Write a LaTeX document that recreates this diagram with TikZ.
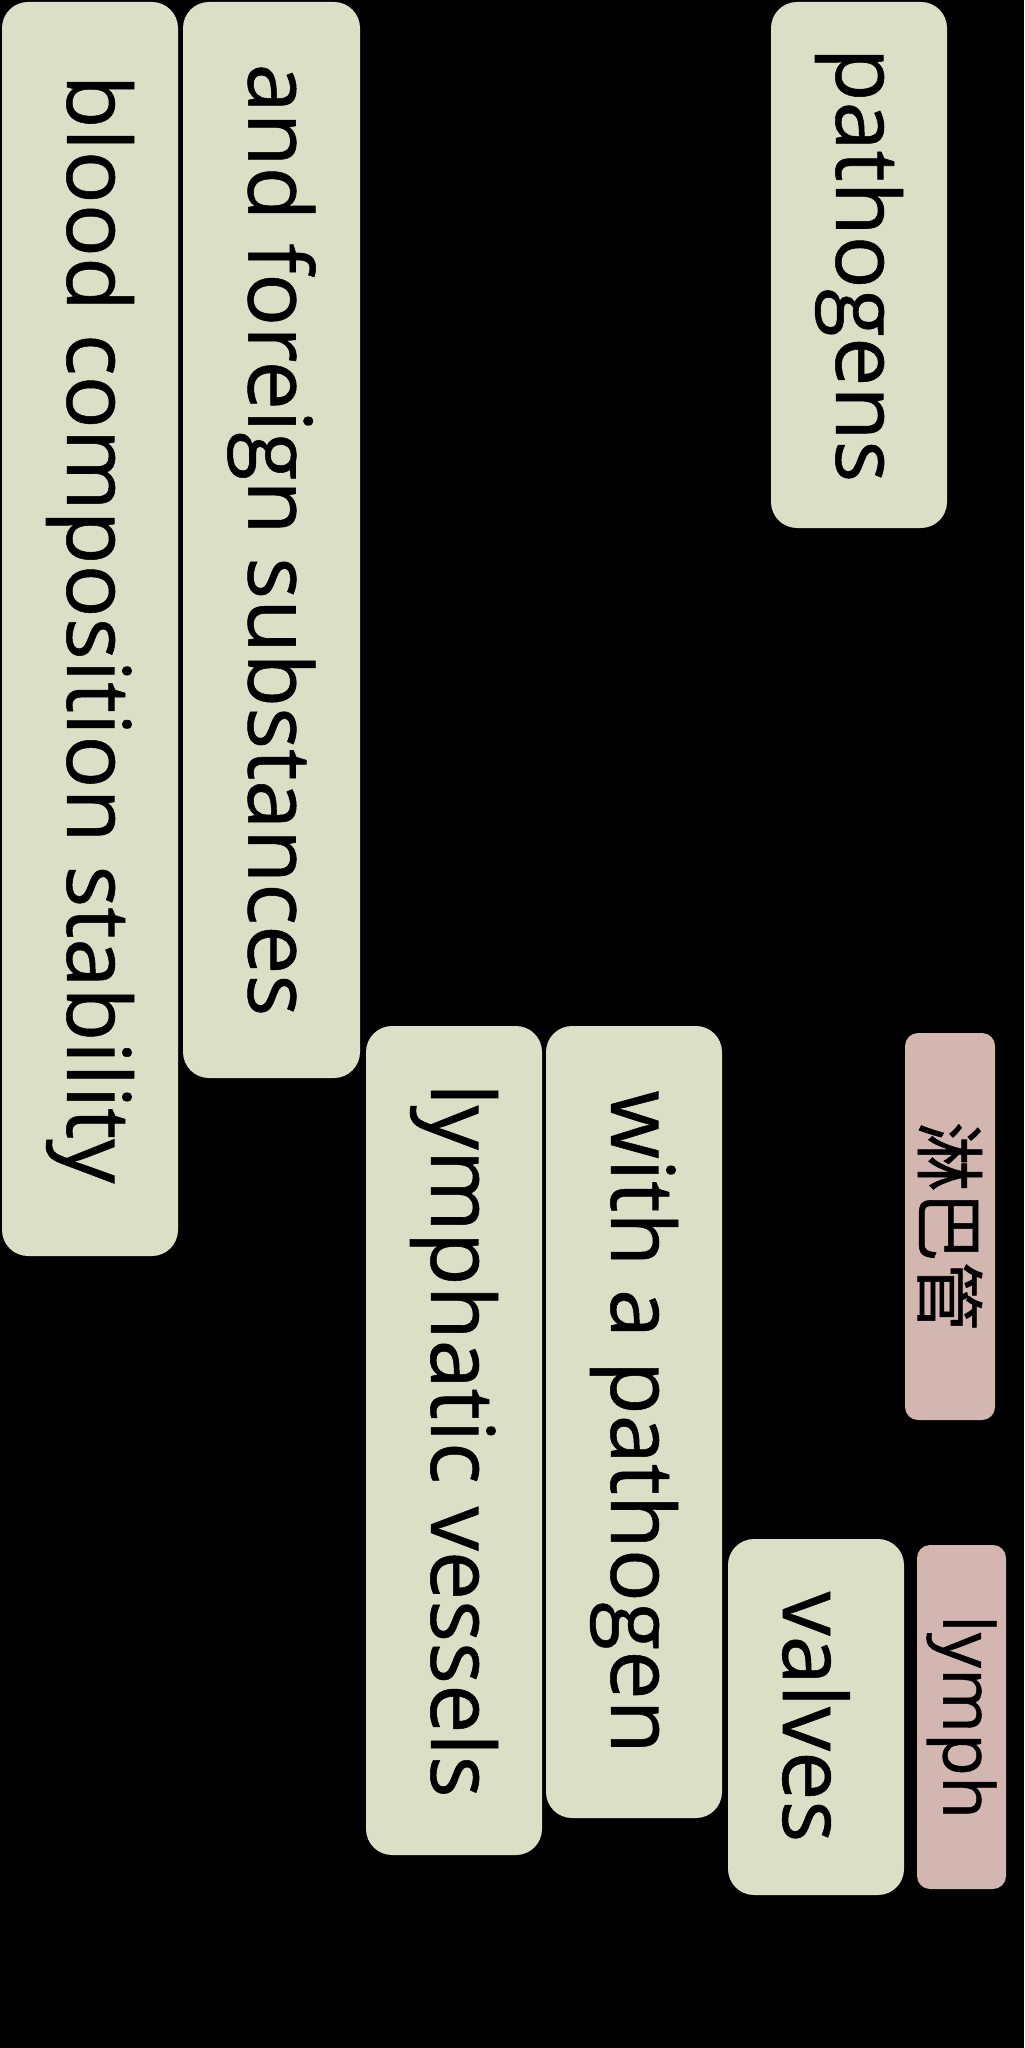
\documentclass[tikz,border=0pt]{standalone}
\usepackage{fontspec}
\setmainfont[FakeBold=0.6]{Open Sans}
\newfontfamily\cjk[FakeBold=0.8]{Noto Sans CJK SC}
\usetikzlibrary{shapes.geometric, positioning}
\definecolor{termgreen}{HTML}{DBDFC5}
\definecolor{termpink}{HTML}{D3B6AF}
\tikzstyle{termblock} = [fill=termgreen, rounded corners=13pt, rotate=-90, inner sep=0pt, align=center, font=\fontsize{44}{50}\selectfont]
\tikzstyle{labelblock} = [fill=termpink, rounded corners=6.5pt, rotate=-90, inner sep=0pt, align=center, font=\fontsize{35}{40}\selectfont]

\begin{document}
\begin{tikzpicture}

        % Background
        \fill[black] (0pt,0pt) rectangle (512pt,-1024pt);
        \useasboundingbox (0pt,0pt) rectangle (512pt,-1024pt);

        % Green terms
        \node[termblock, minimum width=627pt, minimum height=88pt] (blood) at (45pt,-314.5pt) {blood composition stability};
        \node[termblock, minimum width=538pt, minimum height=88.5pt] (foreign) at (135.75pt,-270pt) {and foreign substances};
        \node[termblock, minimum width=263pt, minimum height=88pt] (pathogens) at (429.5pt,-132.5pt) {pathogens};
        \node[termblock, minimum width=414.5pt, minimum height=88pt] (vessels) at (227pt,-720.25pt) {lymphatic vessels};
        \node[termblock, minimum width=396pt, minimum height=88pt] (pathogen) at (317pt,-711pt) {with a pathogen};
        \node[termblock, minimum width=178pt, minimum height=88pt] (valves) at (408pt,-858.5pt) {valves};

        % Pink labels
        \node[labelblock, minimum width=193.5pt, minimum height=45pt] (duct) at (475pt,-613.25pt) {\cjk 淋巴管};
        \node[labelblock, minimum width=172pt, minimum height=44.5pt] (lymph) at (480.75pt,-858.5pt) {lymph};

\end{tikzpicture}
\end{document}
